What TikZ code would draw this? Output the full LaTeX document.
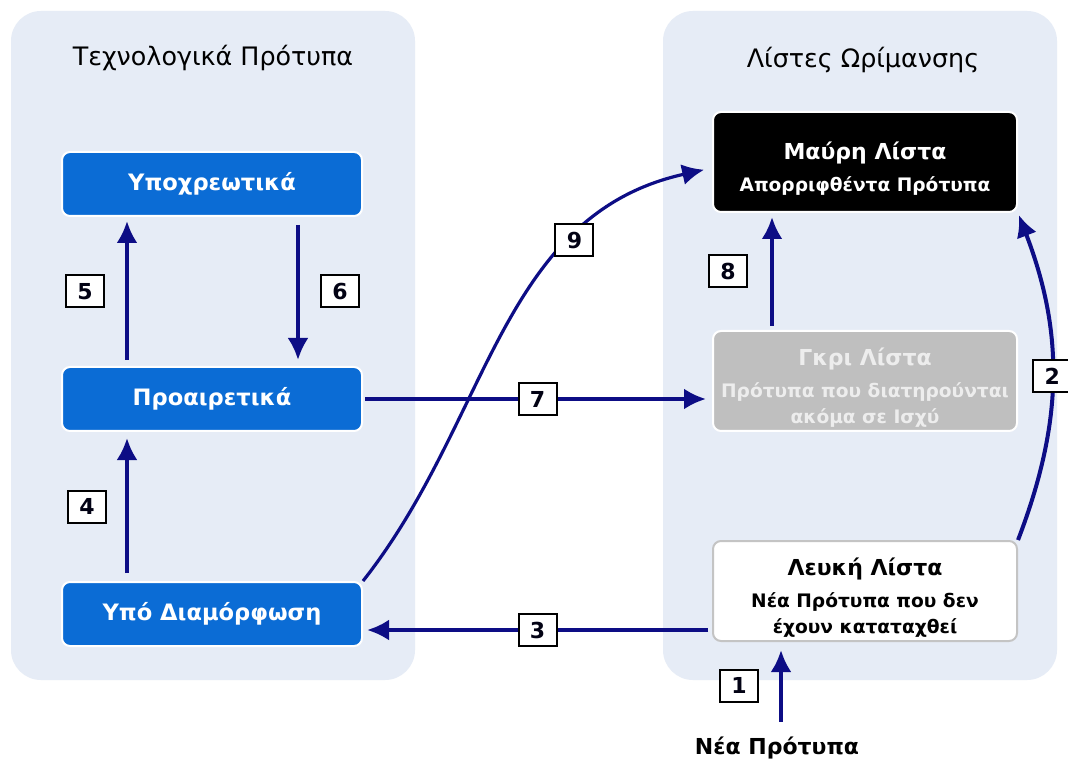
\documentclass[tikz,border=0pt]{standalone}
\usepackage{fontspec}
\setmainfont{DejaVu Sans}
\usepackage{xcolor}
\usepackage{tikz}
\usetikzlibrary{positioning}
\usetikzlibrary{arrows.meta,
                calc}

\definecolor{panelbg}{HTML}{E6ECF6}
\definecolor{stdblue}{HTML}{0B6CD5}
\definecolor{arrownavy}{HTML}{0D0D85}
\definecolor{greylist}{HTML}{BFBFBF}
\definecolor{greytext}{HTML}{EDEDED}
\definecolor{whiteedge}{HTML}{C4C4C4}

\newcommand{\listsub}{\bfseries\fontsize{9.3}{11}\selectfont}
\newcommand{\liststrut}{\rule{0pt}{15pt}}

\begin{document}
\begin{tikzpicture}[
      x=0.5pt, y=-0.5pt,
      node distance=74.5pt and 20pt,
      panel/.style={fill=panelbg,rounded corners=15pt},
      paneltitle/.style={font=\fontsize{12.7}{14}\selectfont},
      stdbox/.style={fill=stdblue,draw=white,line width=1pt,rounded corners=4pt,
        minimum width=150pt,minimum height=32pt,text=white,
        font=\bfseries\fontsize{11.3}{13}\selectfont},
      listbox/.style={draw=white,line width=1pt,rounded corners=4pt,
        minimum width=152pt,minimum height=50pt,inner ysep=1pt,align=center,
        font=\bfseries\fontsize{11}{14}\selectfont},
      flow/.style={draw=arrownavy,line width=2pt,-{Latex[length=11pt,width=10.5pt]}},
      numbox/.style={draw=black,fill=white,line width=1pt,minimum width=19pt,
        minimum height=16pt,inner sep=0pt,text=black!85!arrownavy,
        font=\bfseries\fontsize{11}{12}\selectfont}
      ]

      \useasboundingbox[fill=white] (0,0) rectangle (1068,763);

      % two panels
      \fill[panel] (11,11) rectangle (415,680);
      \fill[panel] (663,11) rectangle (1057,680);
      \node[paneltitle] (techtitle) at (213,58) {Τεχνολογικά Πρότυπα};
      \node[paneltitle] (listtitle) at (863,60) {Λίστες Ωρίμανσης};

      % left column
      \node[stdbox] (opt) at (212,399) {Προαιρετικά};
      \node[stdbox, above=of opt] (mand) {Υποχρεωτικά};
      \node[stdbox, below=of opt] (draft) {Υπό Διαμόρφωση};

      % right column
      \node[listbox, fill=black, text=white] (black) at (865,162)
        {\liststrut Μαύρη Λίστα\\[2pt]{\listsub Απορριφθέντα Πρότυπα}};
      \node[listbox, fill=greylist, text=greytext] (grey) at (865,381)
        {\liststrut Γκρι Λίστα\\[2pt]{\listsub Πρότυπα που διατηρούνται}\\[-1pt]{\listsub ακόμα σε Ισχύ}};
      \node[listbox, fill=white, draw=whiteedge, text=black] (white) at (865,591)
        {\liststrut Λευκή Λίστα\\[2pt]{\listsub Νέα Πρότυπα που δεν}\\[-1pt]{\listsub έχουν καταταχθεί}};

      \node[font=\bfseries\fontsize{11}{13}\selectfont] (new) at (777,748) {Νέα Πρότυπα};

      % arrows
      \path[flow, shorten <=4pt, shorten >=4pt] ([xshift=2pt]new.north) -- node[numbox, left=11pt] {1}
        ([xshift=2pt]new.north |- white.south);
      \path[flow, shorten >=1pt] (white.north east) to[bend right=21]
        node[numbox] {2} (black.south east);
      \coordinate (c3) at ([yshift=-8pt]draft.east);
      \path[flow, shorten <=2pt, shorten >=2pt] (white.west |- c3) -- node[numbox] {3} (c3);
      \path[flow, shorten <=4pt, shorten >=3pt] ([xshift=-42.5pt]draft.north) -- node[numbox, left=10pt] {4}
        ([xshift=-42.5pt]opt.south);
      \path[flow, shorten <=3pt, shorten >=2pt] ([xshift=-42.5pt]opt.north) -- node[numbox, left=11pt] {5}
        ([xshift=-42.5pt]mand.south);
      \path[flow, shorten <=4pt, shorten >=3pt] ([xshift=43pt]mand.south) -- node[numbox, right=11pt] {6}
        ([xshift=43pt]opt.north);
      \path[flow, shorten <=1pt, shorten >=3pt] (opt.east) -- node[numbox] {7} (opt.east -| grey.west);
      \path[flow, shorten <=2pt, shorten >=2pt] ([xshift=-46.5pt]grey.north) -- node[numbox, left=12pt] {8}
        ([xshift=-46.5pt]black.south);
      \path[flow, line width=1.6pt, shorten >=4pt] (draft.north east) .. controls (490,420) and (500,215) ..
        node[numbox, pos=0.72] {9} ([yshift=-3pt]black.west);

    \end{tikzpicture}
\end{document}
